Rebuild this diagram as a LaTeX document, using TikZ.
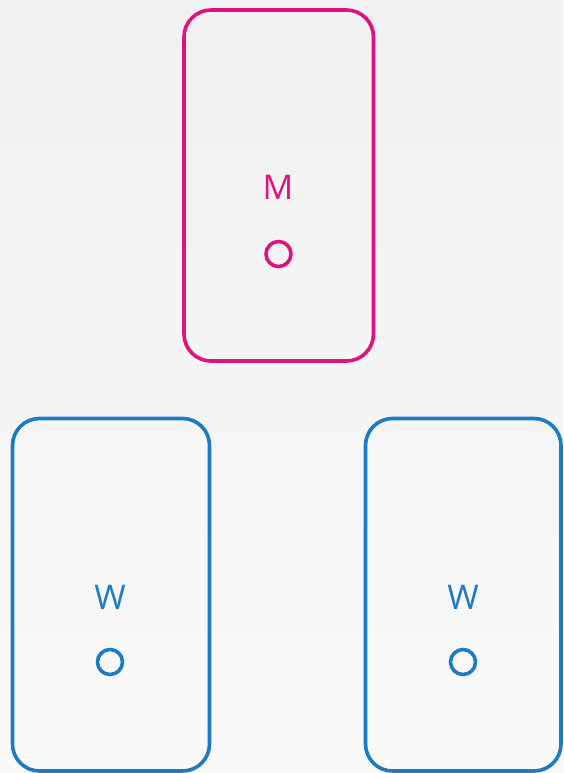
\documentclass[tikz,border=0pt]{standalone}
\usepackage{fontspec}
\setmainfont{Open Sans}
\definecolor{pinkc}{HTML}{E0137E}
\definecolor{bluec}{HTML}{1D7BC3}
\definecolor{bgtop}{HTML}{F1F1F1}
\definecolor{bgbot}{HTML}{F9F9F9}
\begin{document}
\begin{tikzpicture}[x=1pt,y=-1pt,
  card/.style={line width=3.6pt,rounded corners=27pt},
  lbl/.style={font=\fontsize{34}{34}\selectfont,inner sep=0pt,anchor=base},
  dot/.style={circle,line width=3.6pt,minimum size=25pt,inner sep=0pt}]
\shade[top color=bgtop,bottom color=bgbot] (0,0) rectangle (563,773);
\useasboundingbox (0,0) rectangle (563,773);
% top card
\draw[card,pinkc] (184,10) rectangle (373.5,361);
\node[lbl,text=pinkc] (m) at (278,199) {M};
\node[dot,draw=pinkc] (mc) at (278.5,254) {};
% bottom left
\draw[card,bluec] (12.5,418.5) rectangle (209.5,771);
\node[lbl,text=bluec] (w1) at (110,609) {W};
\node[dot,draw=bluec] (w1c) at (110,662) {};
% bottom right
\draw[card,bluec] (365.5,418.5) rectangle (561,771);
\node[lbl,text=bluec] (w2) at (463,609) {W};
\node[dot,draw=bluec] (w2c) at (463,662) {};
\end{tikzpicture}
\end{document}
